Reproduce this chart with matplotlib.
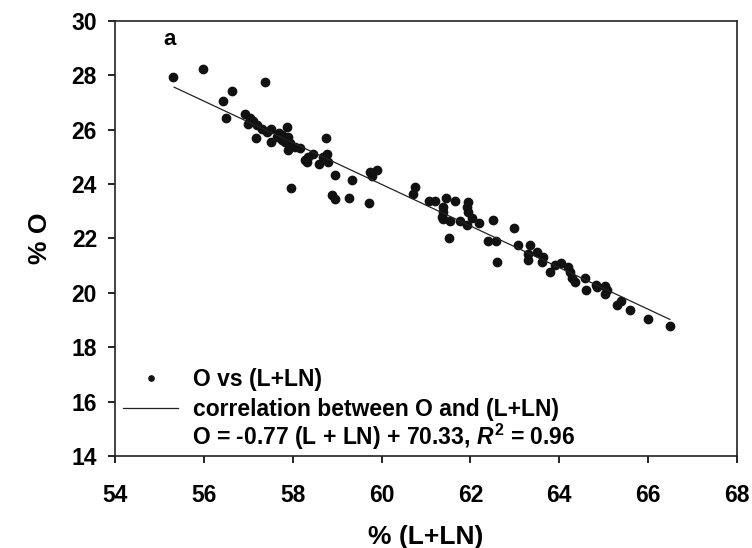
import numpy as np
import matplotlib
matplotlib.use("Agg")
import matplotlib.pyplot as plt
from matplotlib.lines import Line2D

plt.rcParams['font.family'] = ['Liberation Sans', 'DejaVu Sans']
plt.rcParams['font.weight'] = 'bold'
plt.rcParams['mathtext.fontset'] = 'custom'
plt.rcParams['mathtext.it'] = 'Liberation Sans:italic:bold'
plt.rcParams['mathtext.rm'] = 'Liberation Sans:bold'

# % (L+LN) vs % O
x_lln = [55.31, 55.97, 57.38, 56.64, 56.42, 56.49,
         56.93, 57.04, 57.00, 57.19, 57.30, 57.41, 57.52, 57.64, 57.75, 57.86,
         57.83, 57.94, 58.05, 58.16, 58.28, 58.35, 58.46, 58.58, 58.69,
         57.17, 57.51, 57.10, 57.68, 57.90, 57.90, 58.31, 58.74, 58.76, 58.80,
         57.75, 58.95, 59.33, 57.95, 58.88, 58.95, 59.27, 59.72, 59.74, 59.89,
         59.78,
         60.75, 60.71, 61.07, 61.20, 61.44, 61.65, 61.39, 61.39, 61.35, 61.39,
         61.54, 61.77, 61.95, 61.93, 61.95, 62.03, 61.93, 62.19, 62.50, 61.52,
         62.39, 62.58, 62.97, 62.59, 63.06, 63.34, 63.30, 63.30, 63.49, 63.64,
         63.60, 63.79, 63.90, 64.05, 64.20, 64.24, 64.28, 64.35, 64.58, 64.60,
         64.83, 64.85, 65.03, 65.08, 65.03, 65.29, 65.38, 65.59, 66.00, 66.49]
y_o = [27.93, 28.22, 27.76, 27.41, 27.05, 26.41,
       26.57, 26.41, 26.22, 26.16, 26.04, 25.92, 26.04, 25.74, 25.80, 26.10,
       25.55, 25.49, 25.37, 25.31, 24.88, 25.00, 25.12, 24.75, 25.00,
       25.68, 25.53, 26.30, 25.86, 25.74, 25.25, 24.82, 25.68, 25.12, 24.82,
       25.61, 24.33, 24.14, 23.87, 23.59, 23.43, 23.47, 23.31, 24.45, 24.51,
       24.29,
       23.90, 23.62, 23.38, 23.38, 23.47, 23.37, 23.17, 22.98, 22.80, 22.70,
       22.64, 22.65, 23.34, 23.17, 22.98, 22.74, 22.49, 22.58, 22.67, 22.02,
       21.91, 21.90, 22.37, 21.12, 21.76, 21.75, 21.42, 21.20, 21.51, 21.33,
       21.14, 20.77, 21.02, 21.08, 20.96, 20.77, 20.53, 20.40, 20.53, 20.10,
       20.28, 20.20, 20.25, 20.10, 19.95, 19.55, 19.70, 19.37, 19.03, 18.78]

# correlation line as drawn (end points)
line_x = [55.33, 66.49]
line_y = [27.56, 19.02]

# regression as written in the legend
slope = -0.77
intercept = 70.33
r2 = 0.96

x_ticks = [54, 56, 58, 60, 62, 64, 66, 68]
y_ticks = [14, 16, 18, 20, 22, 24, 26, 28, 30]

fig = plt.figure(figsize=(7.52, 5.48), dpi=100)
ax = fig.add_axes([0.153, 0.168, 0.827, 0.794])

ax.plot(x_lln, y_o, 'o', color='#111111', markersize=6, linestyle='none')
ax.plot(line_x, line_y, color='#222222', linewidth=0.9)

ax.set_xlim(54, 68)
ax.set_ylim(14, 30)
ax.set_xticks(x_ticks)
ax.set_yticks(y_ticks)
ax.tick_params(direction='out', length=5, width=1.2, labelsize=16.5)
ax.tick_params(axis='x', pad=15)
ax.tick_params(axis='y', pad=8)
for s in ax.spines.values():
    s.set_linewidth(1.2)
    s.set_color('#222222')

ax.set_xlabel('% (L+LN)', fontsize=19, fontweight='bold', labelpad=13)
ax.set_ylabel('% O', fontsize=19, fontweight='bold', labelpad=14)

ax.text(0.088, 0.958, 'a', transform=ax.transAxes, fontsize=16,
        ha='center', va='center')

handles = [Line2D([], [], marker='o', color='#111111', linestyle='none', markersize=3.8),
           Line2D([], [], color='#222222', linewidth=0.9)]
labels = ['O vs (L+LN)', 'correlation between O and (L+LN)']
ax.legend(handles, labels, loc='lower left', frameon=False, fontsize=16.5,
          handlelength=2.4, handletextpad=0.65, labelspacing=0.3,
          bbox_to_anchor=(0.008, 0.072), borderaxespad=0.0, borderpad=0.15)

# equation line under the legend
ax.text(0.124, 0.025, 'O = %.2f (L + LN) + %.2f, $R^2$ = %.2f' % (slope, intercept, r2),
        transform=ax.transAxes, fontsize=16.5, ha='left', va='baseline')

fig.savefig('out.png', dpi=100)
